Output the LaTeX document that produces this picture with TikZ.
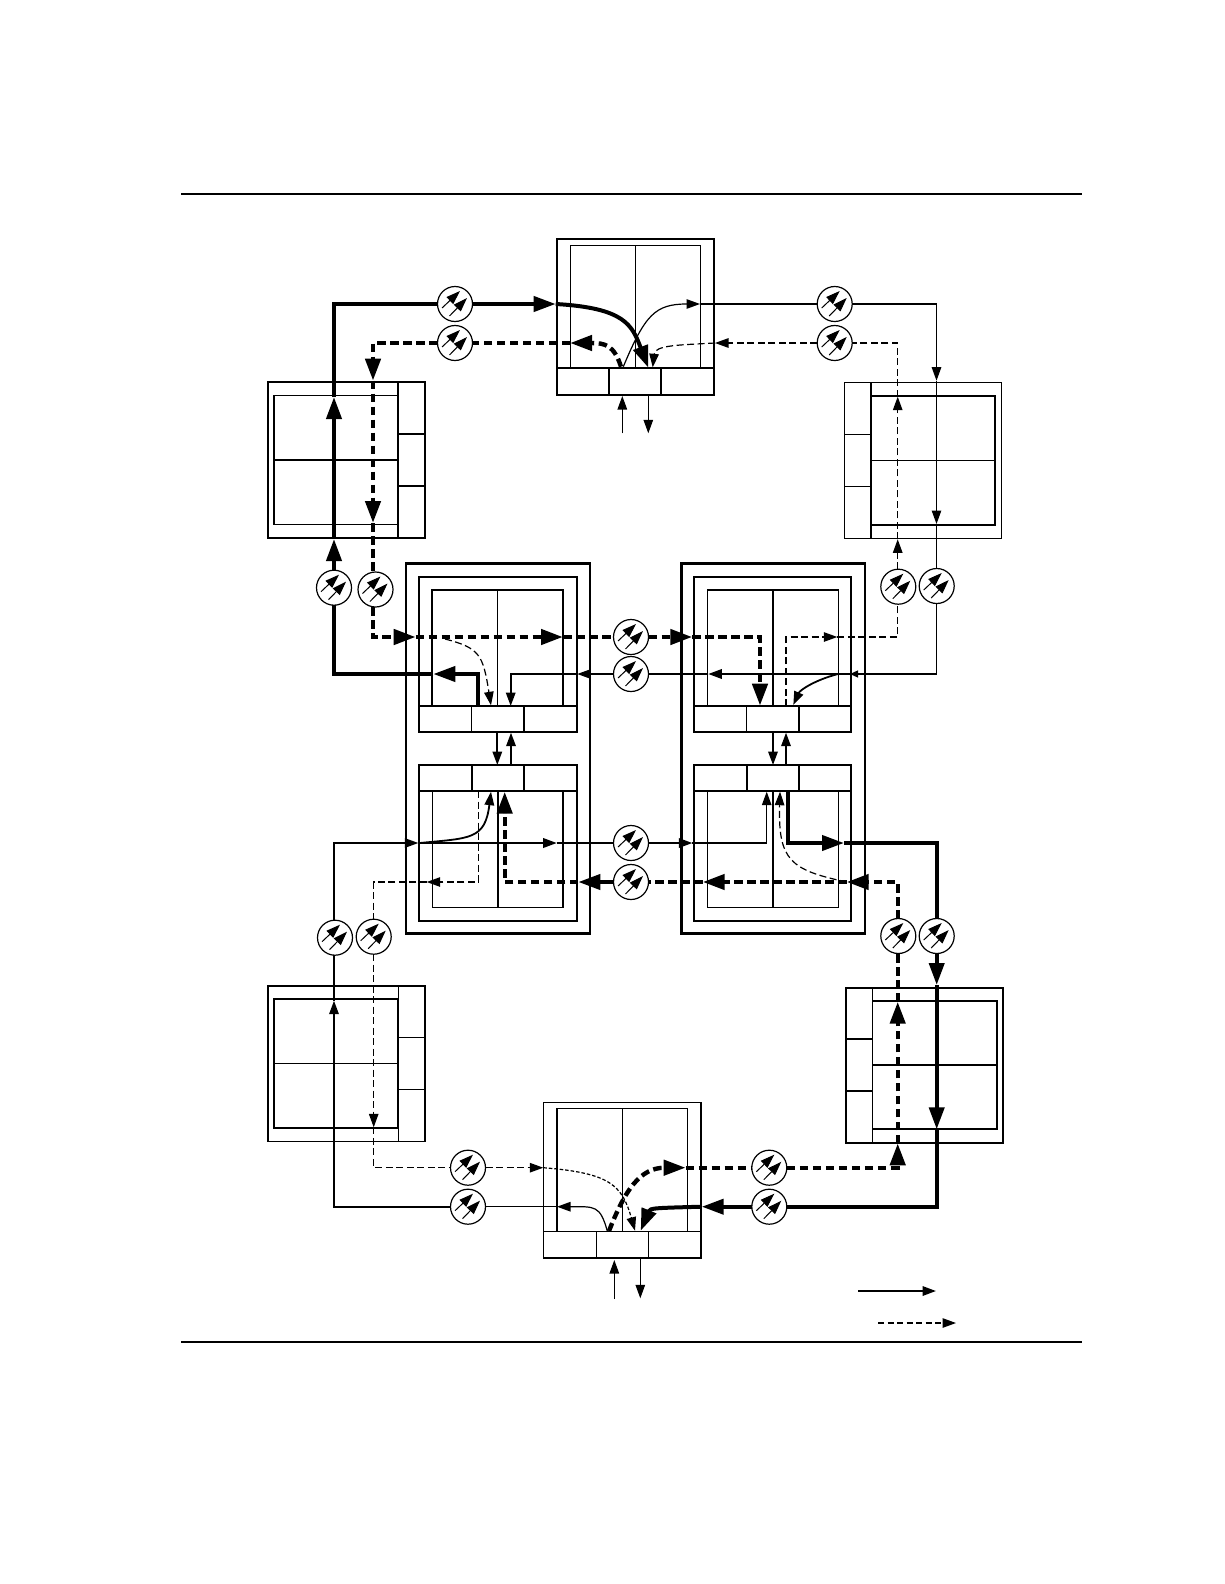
\documentclass[tikz,border=0pt]{standalone}
\usetikzlibrary{arrows.meta}
\tikzset{
  x=1pt,y=-1pt,
  boxn/.style={draw,inner sep=0pt,outer sep=0pt,anchor=north west,line width=1.3pt},
  bxf/.style={line width=1.1pt},
  bxm/.style={line width=1.8pt},
  bxo/.style={line width=2.8pt},
  grid/.style={line width=1.2pt},
  ampc/.style={circle,draw,fill=white,minimum size=35pt,inner sep=0pt,outer sep=0pt,line width=1.2pt},
  ampa/.style={line width=1pt,-{Triangle[length=14pt,width=9.5pt]}},
  thk/.style={line width=4pt,line join=miter},
  thn/.style={line width=1.2pt,line join=miter},
  med/.style={line width=1.8pt,line join=miter},
  dthk/.style={thk,line width=4.4pt,dash pattern=on 8.5pt off 4.5pt},
  dthn/.style={thn,dash pattern=on 7pt off 3.5pt},
  dfine/.style={thn,dash pattern=on 3.5pt off 2pt},
  hbig/.style={-{Triangle[length=22pt,width=15pt]}},
  hmid/.style={-{Triangle[length=13.5pt,width=9.5pt]}},
  hsm/.style={-{Triangle[length=8pt,width=7pt]}},
}
\newcommand\bx[6]{\pgfmathsetmacro\bw{#4-#2}\pgfmathsetmacro\bh{#5-#3}%
  \node[boxn,#6,minimum width=\bw pt,minimum height=\bh pt] (#1) at (#2,#3) {};}
\newcommand\ampnode[3]{\node[ampc] (#1) at (#2,#3) {};
  \draw[ampa] ([shift={(-13,4)}]#1.center) -- ([shift={(5,-13)}]#1.center);
  \draw[ampa] ([shift={(-5.5,12)}]#1.center) -- ([shift={(12,-6)}]#1.center);}
\begin{document}
\begin{tikzpicture}
\useasboundingbox (0,0) rectangle (1224,1584);
\fill[white] (0,0) rectangle (1224,1584);
% rules
\coordinate (ruleTL) at (181,194); \coordinate (ruleTR) at (1082,194);
\coordinate (ruleBL) at (181,1342); \coordinate (ruleBR) at (1082,1342);
\draw[line width=1.6pt] (ruleTL) -- (ruleTR);
\draw[line width=1.6pt] (ruleBL) -- (ruleBR);

% top node
\bx{topO}{557}{239}{714}{394.7}{bxm}
\bx{topI}{570.3}{245.3}{700.3}{368.3}{}
\bx{topA}{557}{368.3}{609}{394.7}{bxm}
\bx{topB}{609}{368.3}{661.3}{394.7}{bxm}
\bx{topC}{661.3}{368.3}{714}{394.7}{bxm}
\draw[grid] (topI.north) -- (topI.south);

% bottom node
\bx{botO}{543.3}{1102.7}{701}{1258}{}
\bx{botI}{557}{1108.7}{687.3}{1231.7}{}
\bx{botA}{543.3}{1231.7}{596.3}{1258}{}
\bx{botB}{596.3}{1231.7}{648.3}{1258}{}
\bx{botC}{648.3}{1231.7}{701}{1258}{}
\draw[grid] (botI.north) -- (botI.south);

% top-left node
\bx{tlO}{268}{382}{425}{538}{bxm}
\bx{tlI}{274}{395.7}{398.3}{524.3}{}
\bx{tlA}{398.3}{382}{425}{434}{bxm}
\bx{tlB}{398.3}{434}{425}{486}{bxm}
\bx{tlC}{398.3}{486}{425}{538}{bxm}
\draw[bxm] (tlI.west) -- (tlI.east);

% top-right node
\bx{trO}{844.7}{382.3}{1001.7}{538.3}{bxf}
\bx{trI}{871}{396}{995.3}{525}{bxm}
\bx{trA}{844.7}{382.3}{871}{434.7}{bxf}
\bx{trB}{844.7}{434.7}{871}{486.7}{bxf}
\bx{trC}{844.7}{486.7}{871}{538.3}{bxf}
\draw[bxf] (trI.west) -- (trI.east);

% bottom-left node
\bx{blO}{268}{986}{425}{1141.3}{}
\bx{blI}{274}{999.3}{398.3}{1128.3}{bxm}
\bx{blA}{398.3}{986}{425}{1037.7}{}
\bx{blB}{398.3}{1037.7}{425}{1089.7}{}
\bx{blC}{398.3}{1089.7}{425}{1141.3}{}
\draw[grid] (blI.west) -- (blI.east);

% bottom-right node
\bx{brO}{845.7}{987.7}{1003.3}{1143}{bxm}
\bx{brI}{872.5}{1000.7}{997.3}{1129.3}{bxm}
\bx{brA}{845.7}{987.7}{872.5}{1039}{bxm}
\bx{brB}{845.7}{1039}{872.5}{1091}{bxf}
\bx{brC}{845.7}{1091}{872.5}{1143}{bxm}
\draw[bxm] (brI.west) -- (brI.east);

% central left
\bx{clO}{406}{563.3}{590}{933.3}{bxo}
\bx{clFU}{419}{577}{576.7}{732.3}{bxm}
\bx{clFL}{419}{765}{576.7}{920.7}{bxm}
\bx{clU}{432.3}{590}{563}{706}{bxm}
\bx{clUa}{419}{706}{471.7}{732.3}{}
\bx{clUb}{471.7}{706}{524}{732.3}{}
\bx{clUc}{524}{706}{576.7}{732.3}{}
\bx{clLa}{419}{765}{471.7}{790.7}{bxm}
\bx{clLb}{471.7}{765}{524}{790.7}{bxm}
\bx{clLc}{524}{765}{576.7}{790.7}{bxm}
\bx{clL}{432.3}{790.7}{563}{907.7}{}
\draw[grid] (clU.north) -- (clU.south);
\draw[med] (clL.north) -- (clL.south);

% central right
\bx{crO}{681.3}{563.3}{865}{933.3}{bxo}
\bx{crFU}{694.3}{577}{851.3}{732.3}{bxm}
\bx{crFL}{694.3}{765}{851.3}{920.7}{bxm}
\bx{crU}{707.7}{590}{838.3}{706}{}
\bx{crUa}{694.3}{706}{746.7}{732.3}{}
\bx{crUb}{746.7}{706}{799}{732.3}{}
\bx{crUc}{799}{706}{851.3}{732.3}{}
\bx{crLa}{694.3}{765}{746.7}{790.7}{bxm}
\bx{crLb}{746.7}{765}{799}{790.7}{bxm}
\bx{crLc}{799}{765}{851.3}{790.7}{bxm}
\bx{crL}{707.7}{790.7}{838.3}{907.7}{}
\draw[med] (crU.north) -- (crU.south);
\draw[med] (crL.north) -- (crL.south);

% amplifiers
\ampnode{aT1}{455}{304}
\ampnode{aT2}{455}{343}
\ampnode{aT3}{834.7}{304}
\ampnode{aT4}{834.7}{343}
\ampnode{aL1}{334}{587.7}
\ampnode{aL2}{375.5}{589.5}
\ampnode{aR1}{898.3}{586.7}
\ampnode{aR2}{936.7}{586}
\ampnode{aC1}{631}{637}
\ampnode{aC2}{631}{674}
\ampnode{aC3}{631}{843}
\ampnode{aC4}{631}{882}
\ampnode{aL3}{335}{937.7}
\ampnode{aL4}{373.7}{936.7}
\ampnode{aR3}{898.3}{936}
\ampnode{aR4}{936.7}{936}
\ampnode{aB1}{468}{1167.7}
\ampnode{aB2}{468}{1206.7}
\ampnode{aB3}{769.3}{1167.7}
\ampnode{aB4}{769.3}{1206.7}

% ---- top ring, thick solid
\coordinate (a1) at (334,539); \coordinate (a2) at (334,397); \coordinate (a3) at (334,304);
\coordinate (a4) at (555.7,304); \coordinate (a5) at (648.3,367.7);
\draw[thk,hbig] (a1 |- aL1.north) -- (a1);
\draw[thk,hbig] (a1) -- (a2);
\draw[thk] (a2) -- (a3) -- (aT1.west);
\draw[thk,hbig] (aT1.east) -- (a4);
\draw[thk,hbig] (a4) .. controls (625,308) and (632,325) .. (a5);
\coordinate (a6) at (478.3,706); \coordinate (a7) at (478.3,674); \coordinate (a8) at (433.3,674); \coordinate (a9) at (334,674);
\draw[thk,hbig] (a6) -- (a7) -- (a8);
\draw[thk] (a8) -- (a9) -- (aL1.south);

% ---- top ring, thick dashed
\coordinate (b1) at (621,366.7); \coordinate (b2) at (570,343); \coordinate (b3) at (373,343);
\coordinate (b4) at (373,380.7); \coordinate (b5) at (373,523); \coordinate (b6) at (373,637);
\coordinate (b7) at (415.7,637); \coordinate (b8) at (563,637); \coordinate (b9) at (692.3,637);
\coordinate (b10) at (760,637); \coordinate (b11) at (760,705.7);
\draw[dthk,hbig] (b1) .. controls (614,345) and (605,343) .. (b2);
\draw[dthk] (b2) -- (aT2.east);
\draw[dthk,hbig] (aT2.west) -- (b3) -- (b4);
\draw[dthk,hbig] (b4) -- (b5);
\draw[dthk] (b5) -- (b5 |- aL2.north);
\draw[dthk,hbig] (b5 |- aL2.south) -- (b6) -- (b7);
\draw[dthk,hbig] (b7) -- (b8);
\draw[dthk] (b8) -- (aC1.west);
\draw[dthk,hbig] (aC1.east) -- (b9);
\draw[dthk,hbig] (b9) -- (b10) -- (b11);

% ---- top ring, thin solid
\coordinate (c1) at (623.3,366.7); \coordinate (c2) at (700,304); \coordinate (c3) at (936.5,304);
\coordinate (c4) at (936.5,380.7); \coordinate (c5) at (936.5,524); \coordinate (c6) at (936.5,674);
\coordinate (c7) at (850,674); \coordinate (c8) at (708.3,674); \coordinate (c9) at (577.3,674);
\coordinate (c10) at (510.7,674); \coordinate (c11) at (510.7,706); \coordinate (c12) at (838,674); \coordinate (c13) at (793.3,705);
\draw[thn,hmid] (c1) .. controls (645,315) and (655,304) .. (c2);
\draw[thn] (c2) -- (aT3.west);
\draw[thn,hmid] (aT3.east) -- (c3) -- (c4);
\draw[thn,hmid] (c4) -- (c5);
\draw[thn] (c5) -- (c5 |- aR2.north);
\draw[thn,hsm] (c5 |- aR2.south) -- (c6) -- (c7);
\draw[med,hmid] (c7) -- (c8);
\draw[thn] (c8) -- (aC2.east);
\draw[thn,hmid] (aC2.west) -- (c9);
\draw[med,hmid] (c9) -- (c10) -- (c11);
\draw[med,hmid] (c12) .. controls (815,680) and (800,690) .. (c13);

% ---- top ring, thin dashed
\coordinate (d1) at (715,343); \coordinate (d2) at (652.7,367.3); \coordinate (d3) at (897.7,539.3);
\coordinate (d4) at (897.7,396.7); \coordinate (d5) at (897.7,343); \coordinate (d6) at (786,706);
\coordinate (d7) at (786,637); \coordinate (d8) at (837.3,637); \coordinate (d9) at (897.7,637);
\draw[dthn,hmid] (aT4.west) -- (d1);
\draw[dthn,hmid] (d1) .. controls (680,345) and (655,345) .. (d2);
\draw[dthn,hmid] (d3 |- aR1.north) -- (d3);
\draw[dthn,hmid] (d3) -- (d4);
\draw[dthn] (d4) -- (d5) -- (aT4.east);
\draw[dthn,hmid] (d6) -- (d7) -- (d8);
\draw[dthn] (d8) -- (d9) -- (d9 |- aR1.south);
\coordinate (d10) at (445,639); \coordinate (d11) at (491,705.3);
\draw[dthn,hmid] (d10) .. controls (480,648) and (483,655) .. (d11);

% ---- lower ring, thick solid
\coordinate (e1) at (787.7,791); \coordinate (e2) at (787.7,843); \coordinate (e3) at (844,843);
\coordinate (e4) at (936.7,843); \coordinate (e5) at (936.7,985); \coordinate (e6) at (936.7,1129.3);
\coordinate (e7) at (936.7,1206.7); \coordinate (e8) at (701.7,1206.7); \coordinate (e9) at (640.7,1230.7);
\draw[thk,hbig] (e1) -- (e2) -- (e3);
\draw[thk] (e3) -- (e4) -- (aR4.north);
\draw[thk,hbig] (aR4.south) -- (e5);
\draw[thk,hbig] (e5) -- (e6);
\draw[thk] (e6) -- (e7) -- (aB4.east);
\draw[thk,hbig] (aB4.west) -- (e8);
\draw[thk,hbig] (e8) .. controls (655,1208) and (650,1208) .. (e9);

% ---- lower ring, thick dashed
\coordinate (f1) at (609,1231); \coordinate (f2) at (685.7,1167.7); \coordinate (f3) at (897.7,1167.7);
\coordinate (f4) at (897.7,1143.3); \coordinate (f5) at (897.7,1001.7); \coordinate (f6) at (897.7,882);
\coordinate (f7) at (846.7,882); \coordinate (f8) at (702.7,882); \coordinate (f9) at (578.3,882);
\coordinate (f10) at (504.7,882); \coordinate (f11) at (504.7,791.7);
\draw[dthk,hbig] (f1) .. controls (625,1190) and (640,1167.7) .. (f2);
\draw[dthk] (f2) -- (aB3.west);
\draw[dthk,hbig] (aB3.east) -- (f3) -- (f4);
\draw[dthk,hbig] (f4) -- (f5);
\draw[dthk] (f5) -- (f5 |- aR3.south);
\draw[dthk,hbig] (f5 |- aR3.north) -- (f6) -- (f7);
\draw[dthk,hbig] (f7) -- (f8);
\draw[dthk] (f8) -- (aC4.east);
\draw[thk,hbig] (aC4.west) -- (f9);
\draw[dthk,hbig] (f9) -- (f10) -- (f11);

% ---- lower ring, thin solid
\coordinate (g1) at (607.3,1231); \coordinate (g2) at (557,1206.7); \coordinate (g3) at (334,1206.7);
\coordinate (g4) at (334,1000.7); \coordinate (g5) at (334,843); \coordinate (g6) at (418.3,843);
\coordinate (g7) at (556.7,843); \coordinate (g8) at (692.3,843); \coordinate (g9) at (766.7,843);
\coordinate (g10) at (766.7,791.7); \coordinate (g11) at (420,843); \coordinate (g12) at (491,791.7);
\draw[thn,hmid] (g1) .. controls (600,1205) and (595,1206.7) .. (g2);
\draw[thn] (g2) -- (aB2.east);
\draw[med,hmid] (aB2.west) -- (g3) -- (g4);
\draw[thn] (g4) -- (g4 |- aL3.south);
\draw[thn,hmid] (g4 |- aL3.north) -- (g5) -- (g6);
\draw[med,hmid] (g6) -- (g7);
\draw[med] (g7) -- (aC3.west);
\draw[med,hmid] (aC3.east) -- (g8);
\draw[thn,hmid] (g8) -- (g9) -- (g10);
\draw[med,hmid] (g11) .. controls (470,838) and (485,840) .. (g12);

% ---- lower ring, thin dashed
\coordinate (h1) at (478.3,791); \coordinate (h2) at (478.3,882); \coordinate (h3) at (426.7,882);
\coordinate (h4) at (373.7,882); \coordinate (h5) at (373.7,1127.3); \coordinate (h6) at (373.7,1167.7);
\coordinate (h7) at (543.3,1167.7); \coordinate (h8) at (635,1230.7); \coordinate (h9) at (846.7,882); \coordinate (h10) at (780,791.7);
\draw[dthn,hmid] (h1) -- (h2) -- (h3);
\draw[dthn] (h3) -- (h4) -- (h4 |- aL4.north);
\draw[dthn,hmid] (h4 |- aL4.south) -- (h5);
\draw[dthn] (h5) -- (h6) -- (aB1.west);
\draw[dthn,hmid] (aB1.east) -- (h7);
\draw[dfine,hmid] (h7) .. controls (610,1173) and (622,1185) .. (h8);
\draw[dthn,hmid] (h9) .. controls (790,870) and (778,860) .. (h10);

% ---- links between the stacked central cells
\coordinate (i1) at (497.3,732.3); \coordinate (i2) at (497.3,765); \coordinate (i3) at (511,765); \coordinate (i4) at (511,732.7);
\coordinate (i5) at (773,732.3); \coordinate (i6) at (773,765); \coordinate (i7) at (786,765); \coordinate (i8) at (786,732.7);
\draw[med,hmid] (i1) -- (i2);
\draw[med,hmid] (i3) -- (i4);
\draw[med,hmid] (i5) -- (i6);
\draw[med,hmid] (i7) -- (i8);

% ---- add/drop ports
\coordinate (j1) at (622.3,433.3); \coordinate (j2) at (622.3,396); \coordinate (j3) at (648.3,395); \coordinate (j4) at (648.3,433.3);
\coordinate (j5) at (614.3,1299); \coordinate (j6) at (614.3,1260); \coordinate (j7) at (640.3,1258); \coordinate (j8) at (640.3,1298.3);
\draw[thn,hmid] (j1) -- (j2);
\draw[thn,hmid] (j3) -- (j4);
\draw[thn,hmid] (j5) -- (j6);
\draw[thn,hmid] (j7) -- (j8);

% ---- legend
\coordinate (k1) at (858,1291); \coordinate (k2) at (936,1291); \coordinate (k3) at (878,1323); \coordinate (k4) at (956,1323);
\draw[med,hmid] (k1) -- (k2);
\draw[thn,dash pattern=on 6pt off 3.5pt,hmid] (k3) -- (k4);
\end{tikzpicture}
\end{document}
